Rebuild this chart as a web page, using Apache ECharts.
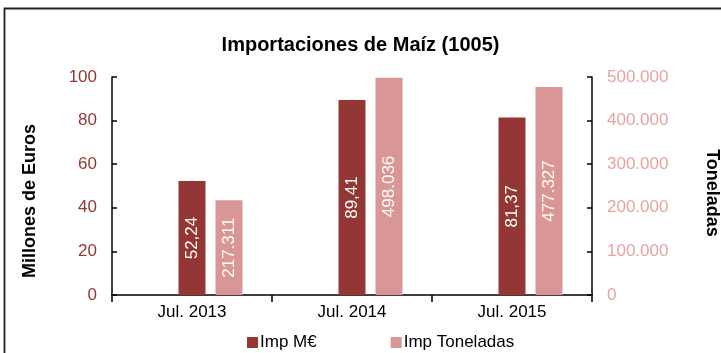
<!DOCTYPE html>
<html>
<head>
<meta charset="utf-8">
<script src="https://cdn.jsdelivr.net/npm/echarts@6/dist/echarts.min.js"></script>
<style>
  html, body { margin: 0; padding: 0; background: #fff; }
  #chart { width: 721px; height: 353px; }
</style>
</head>
<body>
<div id="chart"></div>
<script>
// Periods and import figures
const categories = ['Jul. 2013', 'Jul. 2014', 'Jul. 2015'];
const impEuros = [52.24, 89.41, 81.37];          // millones de euros
const impToneladas = [217311, 498036, 477327];   // toneladas
const leftTicks = { min: 0, max: 100, interval: 20 };
const rightTicks = { min: 0, max: 500000, interval: 100000 };

const DARK = '#943634';
const LIGHT = '#d99694';
const FONT = '"Liberation Sans", Arial, sans-serif';

function fmtThousands(v) {
  return String(Math.round(v)).replace(/\B(?=(\d{3})+(?!\d))/g, '.');
}
function fmtDecimal(v) {
  return v.toFixed(2).replace('.', ',');
}

const chart = echarts.init(document.getElementById('chart'));
chart.setOption({
  animation: false,
  textStyle: { fontFamily: FONT },
  title: {
    text: 'Importaciones de Maíz (1005)',
    left: 'center',
    top: 30,
    textStyle: { fontSize: 20, fontWeight: 'bold', color: '#000', fontFamily: FONT }
  },
  graphic: [{
    type: 'rect',
    shape: { x: 4.5, y: 8.5, width: 730, height: 360 },
    style: { fill: 'none', stroke: '#222', lineWidth: 1.8 },
    silent: true
  }],
  grid: { left: 112, right: 129, top: 77, bottom: 58, outerBoundsMode: 'none', containLabel: false },
  legend: {
    data: ['Imp M€', 'Imp Toneladas'],
    left: 242,
    top: 329,
    icon: 'rect',
    itemWidth: 11,
    itemHeight: 11,
    itemGap: 74,
    textStyle: { fontSize: 17, color: '#000', fontFamily: FONT, padding: [0, 0, 0, -3] }
  },
  xAxis: {
    type: 'category',
    data: categories,
    axisLine: { lineStyle: { color: '#000', width: 1.5 } },
    axisTick: { show: true, length: 7, inside: false, lineStyle: { color: '#000', width: 1.5 } },
    axisLabel: { color: '#000', fontSize: 17, margin: 9, fontFamily: FONT },
    splitLine: { show: false }
  },
  yAxis: [{
    type: 'value',
    min: leftTicks.min, max: leftTicks.max, interval: leftTicks.interval,
    name: 'Millones de Euros',
    nameLocation: 'middle',
    nameGap: 73,
    nameTextStyle: { fontSize: 18, fontWeight: 'bold', color: '#000', fontFamily: FONT,
                     padding: [0, 30, 0, 0] },
    axisLine: { show: true, lineStyle: { color: '#000', width: 1.5 } },
    axisTick: { show: true, inside: true, length: 5, lineStyle: { color: '#000', width: 1.5 } },
    axisLabel: { color: '#953735', fontSize: 17, margin: 15, fontFamily: FONT },
    splitLine: { show: false }
  }, {
    type: 'value',
    position: 'right',
    min: rightTicks.min, max: rightTicks.max, interval: rightTicks.interval,
    name: 'Toneladas',
    nameLocation: 'middle',
    nameGap: 111,
    nameRotate: -90,
    nameTextStyle: { fontSize: 18, fontWeight: 'bold', color: '#000', fontFamily: FONT,
                     padding: [0, 0, 0, 14] },
    axisLine: { show: true, lineStyle: { color: '#000', width: 1.5 } },
    axisTick: { show: true, inside: true, length: 5, lineStyle: { color: '#000', width: 1.5 } },
    axisLabel: { color: '#e6a4a1', fontSize: 17, margin: 15, fontFamily: FONT,
                 formatter: v => fmtThousands(v) },
    splitLine: { show: false }
  }],
  series: [{
    // empty slot that keeps the euro bars centred on each period
    name: '_slot',
    type: 'bar',
    yAxisIndex: 0,
    data: categories.map(() => null),
    barWidth: 27,
    barGap: '37%',
    silent: true
  }, {
    name: 'Imp M€',
    type: 'bar',
    yAxisIndex: 0,
    data: impEuros,
    barWidth: 27,
    barGap: '37%',
    itemStyle: { color: DARK },
    label: {
      show: true, position: 'inside', rotate: 90,
      color: '#fff', fontSize: 17, fontFamily: FONT,
      formatter: p => fmtDecimal(p.value)
    }
  }, {
    name: 'Imp Toneladas',
    type: 'bar',
    yAxisIndex: 1,
    data: impToneladas,
    barWidth: 27,
    barGap: '37%',
    itemStyle: { color: LIGHT },
    label: {
      show: true, position: 'inside', rotate: 90,
      color: '#fff', fontSize: 17, fontFamily: FONT,
      formatter: p => fmtThousands(p.value)
    }
  }]
});
</script>
</body>
</html>
